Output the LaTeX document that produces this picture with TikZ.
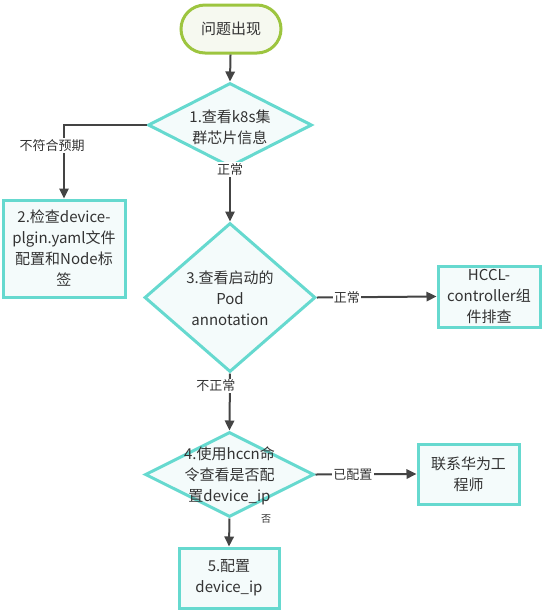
\documentclass[tikz,border=0pt]{standalone}
\usepackage{fontspec}
\setmainfont{Noto Sans CJK SC}
\usetikzlibrary{shapes.geometric,arrows.meta}
\definecolor{tealb}{HTML}{66D9CF}
\definecolor{tealf}{HTML}{F4FBFB}
\definecolor{grnb}{HTML}{9DC53F}
\definecolor{grnf}{HTML}{F6F9F0}
\definecolor{txt}{HTML}{333333}
\definecolor{arr}{HTML}{444444}
\begin{document}
\begin{tikzpicture}[x=0.75pt,y=-0.75pt,
  every node/.style={text=txt},
  term/.style={draw=grnb,fill=grnf,line width=2.25pt,rounded corners=18pt,minimum width=75pt,minimum height=36pt,font=\fontsize{11.25}{15.75}\selectfont},
  boxn/.style={draw=tealb,fill=tealf,line width=2.25pt,inner sep=0pt,align=center,font=\fontsize{11.25}{15.75}\selectfont},
  dia/.style={diamond,draw=tealb,fill=tealf,line width=2.25pt,inner sep=0pt},
  dtext/.style={align=center,font=\fontsize{11.25}{15.75}\selectfont,inner sep=0pt},
  arrowline/.style={draw=arr,line width=1.5pt,-{Triangle[length=7.5pt,width=7pt]}},
  lbl/.style={fill=white,inner sep=1pt,font=\fontsize{9.75}{11}\selectfont},
  lblsmall/.style={inner sep=0pt,font=\fontsize{7.5}{9}\selectfont}
]
\useasboundingbox (0,0) rectangle (542,612);
\node[term] (start) at (231,29) {问题出现};
\node[dia,minimum width=123pt,minimum height=63pt] (d1) at (230,125) {};
\node[dtext] (t1) at (230,127) {1.查看k8s集\\群芯片信息};
\node[boxn,minimum width=91.5pt,minimum height=72.75pt,text width=85pt] (b2) at (64,248.5) {2.检查device-\\plgin.yaml文件\\配置和Node标\\签};
\node[dia,minimum width=128.25pt,minimum height=111.75pt] (d3) at (230,297.5) {};
\node[dtext] (t3) at (230,298) {3.查看启动的\\Pod\\annotation};
\node[boxn,minimum width=76.5pt,minimum height=45.75pt,text width=74pt] (hc) at (489,296.5) {HCCL-\\controller组\\件排查};
\node[dia,minimum width=126.75pt,minimum height=63.75pt] (d4) at (229.5,474.5) {};
\node[dtext] (t4) at (229.5,476) {4.使用hccn命\\令查看是否配\\置device\_ip};
\node[boxn,minimum width=75.75pt,minimum height=45pt,text width=70pt] (hw) at (468.5,474) {联系华为工\\程师};
\node[boxn,minimum width=75pt,minimum height=45pt,text width=70pt] (b5) at (229,578) {5.配置\\device\_ip};

\draw[arrowline] (start) -- (d1.north);
\draw[arrowline] (d1.west) -| (b2.north) node[lbl,pos=0.64,xshift=-9pt] {不符合预期};
\draw[arrowline] (d1.south) -- (d3.north) node[lbl,pos=0.02] {正常};
\draw[arrowline] (d3.east) -- (hc.west) node[lbl,pos=0.25] {正常};
\draw[arrowline] (d3.south) -- (d4.north) node[lbl,pos=0.22,xshift=-10.5pt] {不正常};
\draw[arrowline] (d4.east) -- (hw.west) node[lbl,pos=0.37] {已配置};
\draw[arrowline] (d4.south) -- (b5.north);
\node[lblsmall] (l5) at (266,519) {否};
\end{tikzpicture}
\end{document}
